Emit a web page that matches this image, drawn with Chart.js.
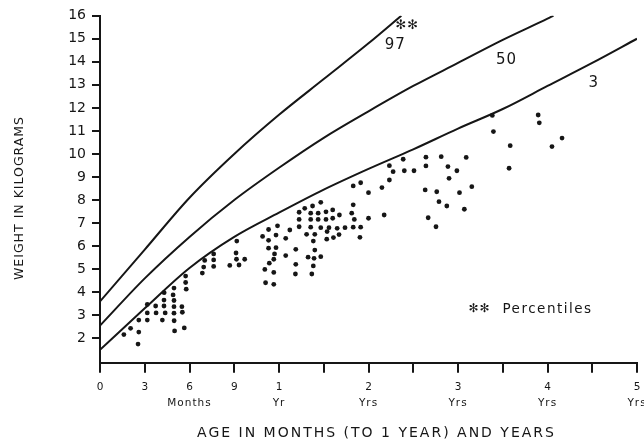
<!DOCTYPE html>
<html>
<head>
<meta charset="utf-8">
<script src="https://cdn.jsdelivr.net/npm/chart.js@4.4.1/dist/chart.umd.min.js"></script>
<style>
  html, body { margin: 0; padding: 0; background: #fff; }
  #wrap { width: 644px; height: 443px; }
</style>
</head>
<body>
<div id="wrap"><canvas id="growth" width="644" height="443"></canvas></div>
<script>
// percentile curves: age in months -> weight in kg
const p97Ages = [0, 3, 6, 9, 12, 18, 24, 28.4];
const p97Kg   = [3.6, 5.85, 8.1, 10.0, 11.7, 13.25, 14.8, 16.0];
const p50Ages = [0, 3, 6, 9, 12, 18, 24, 30, 36, 42, 48, 48.8];
const p50Kg   = [2.55, 4.6, 6.4, 8.0, 9.4, 10.7, 11.85, 12.95, 13.95, 14.95, 15.87, 16.0];
const p3Ages  = [0, 3, 6, 9, 12, 18, 24, 30, 36, 42, 48, 54, 60];
const p3Kg    = [1.5, 3.3, 5.05, 6.4, 7.45, 8.45, 9.35, 10.2, 11.1, 11.95, 12.95, 13.95, 15.0];

// individual children (age in months, weight in kg)
const dotAges = [
  1.6, 2.05, 2.6, 2.6, 2.55, 3.17, 3.17, 3.17, 3.73, 3.76, 4.18, 4.3, 4.29, 4.29, 4.37,
  4.96, 4.9, 4.96, 4.96, 4.96, 4.97, 5.0, 5.49, 5.52, 5.65, 5.74, 5.74, 5.78,
  7.02, 6.95, 6.86, 7.62, 7.62, 7.62, 8.7, 9.17, 9.12, 9.15, 9.32, 9.7,
  10.9, 11.05, 11.1, 11.3, 11.3, 11.3, 11.35, 11.65, 11.65, 11.65, 11.7, 11.8, 11.8, 11.9,
  12.9, 12.9, 13.45, 14.2, 14.25, 14.25, 14.7, 14.7, 14.7, 15.45, 15.7, 15.9,
  16.25, 16.25, 16.25, 16.4, 16.5, 16.6, 16.6, 16.7, 16.8, 16.8, 17.25, 17.25,
  17.6, 17.6, 17.6, 18.3, 18.3, 18.4, 18.45, 18.7, 19.2, 19.2, 19.3, 19.8, 20.1, 20.05,
  20.85, 21.75, 21.95, 21.95, 22.1, 21.95, 22.95, 22.95, 22.85, 24.0, 24.0,
  25.8, 26.1, 26.8, 27.3, 26.8, 28.65, 28.8, 30.1, 31.7, 31.7, 31.6, 32.0, 33.05,
  33.15, 33.45, 33.75, 34.5, 34.65, 34.8, 35.85, 36.2, 36.85, 37.1, 37.85,
  40.6, 40.75, 43.0, 42.85, 46.75, 46.9, 48.6, 49.95
];
const dotKg = [
  2.16, 2.43, 2.27, 2.79, 1.75, 3.47, 3.1, 2.79, 3.4, 3.1, 2.79, 3.98, 3.66, 3.4, 3.1,
  4.18, 3.88, 3.64, 3.37, 3.09, 2.76, 2.32, 3.37, 3.13, 2.45, 4.7, 4.42, 4.13,
  5.38, 5.09, 4.83, 5.66, 5.4, 5.12, 5.16, 6.22, 5.7, 5.43, 5.18, 5.43,
  6.42, 4.99, 4.41, 5.91, 6.72, 6.25, 5.26, 5.43, 4.86, 4.34, 5.66, 6.48, 5.93, 6.88,
  6.34, 5.59, 6.7, 4.79, 5.86, 5.21, 7.47, 7.16, 6.84, 7.64, 6.51, 5.52,
  7.43, 7.16, 6.82, 4.79, 7.74, 6.22, 5.14, 5.47, 6.51, 5.83, 7.43, 7.16,
  7.9, 6.8, 5.54, 7.49, 7.16, 6.3, 6.63, 6.8, 7.57, 7.21, 6.37, 6.77, 7.35, 6.5,
  6.8, 7.43, 7.79, 6.82, 7.16, 8.61, 8.75, 6.82, 6.38, 8.32, 7.21,
  8.54, 7.35, 9.49, 9.23, 8.87, 9.77, 9.27, 9.27, 9.86, 9.48, 8.44, 7.23, 6.84,
  8.36, 7.93, 9.88, 7.74, 9.45, 8.94, 9.27, 8.32, 7.6, 9.85, 8.58,
  11.67, 10.97, 10.36, 9.38, 11.69, 11.35, 10.32, 10.69
];

// axis ticks: every 3 months to 1 year, then every 6 months
const xTickTop    = ['0', '3', '6', '9', '1', '', '2', '', '3', '', '4', '', '5'];
const xTickBottom = ['', '', 'Months', '', 'Yr', '', 'Yrs', '', 'Yrs', '', 'Yrs', '', 'Yrs'];
const yTicks = [2, 3, 4, 5, 6, 7, 8, 9, 10, 11, 12, 13, 14, 15, 16];

const ink = '#161616';
const font = '"DejaVu Sans", sans-serif';

// months -> position on the split age axis
const ageToAxis = m => m <= 12 ? m / 3 : 4 + (m - 12) / 6;
const toPoints = (ages, kg) => ages.map((a, i) => ({ x: ageToAxis(a), y: kg[i] }));

const curve = (ages, kg) => ({
  data: toPoints(ages, kg),
  showLine: true,
  borderColor: ink,
  borderWidth: 2,
  pointRadius: 0,
  cubicInterpolationMode: 'monotone'
});

const axisGrid = len => ({
  drawOnChartArea: false,
  color: ink,
  lineWidth: 2,
  tickLength: len
});

// curve labels, unit words under the age ticks and both axis titles
const annotate = {
  id: 'annotate',
  afterDraw(chart) {
    const { ctx, scales: { x, y }, chartArea } = chart;
    const px = m => x.getPixelForValue(ageToAxis(m));
    const py = kg => y.getPixelForValue(kg);
    ctx.save();
    ctx.fillStyle = ink;
    ctx.textBaseline = 'middle';
    ctx.textAlign = 'center';
    ctx.letterSpacing = '1px';

    ctx.font = '10.5px ' + font;
    xTickBottom.forEach((unit, i) => {
      if (unit) ctx.fillText(unit, x.getPixelForValue(i), chartArea.bottom + 41);
    });

    ctx.font = '15px ' + font;
    ctx.fillText('97', px(27.6), py(14.73));
    ctx.fillText('50', px(42.5), py(14.08));
    ctx.fillText('3', px(54.2), py(13.08));
    ctx.font = '13px ' + font;
    ctx.fillText('\u273B\u273B', px(29.2), py(15.55));

    ctx.textAlign = 'left';
    ctx.font = '12px ' + font;
    ctx.fillText('\u273B\u273B', px(37.4), py(3.27));
    ctx.letterSpacing = '1.5px';
    ctx.font = '13.5px ' + font;
    ctx.fillText('Percentiles', px(37.4) + 34, py(3.27));

    ctx.textAlign = 'center';
    ctx.letterSpacing = '2px';
    ctx.font = '14px ' + font;
    ctx.fillText('AGE IN MONTHS (TO 1 YEAR) AND YEARS', (chartArea.left + chartArea.right) / 2 + 8, 433);
    ctx.letterSpacing = '1px';
    ctx.font = '12.5px ' + font;
    ctx.translate(20, 198);
    ctx.rotate(-Math.PI / 2);
    ctx.fillText('WEIGHT IN KILOGRAMS', 0, 0);
    ctx.restore();
  }
};

new Chart(document.getElementById('growth'), {
  type: 'scatter',
  data: {
    datasets: [
      {
        data: toPoints(dotAges, dotKg),
        pointRadius: 2.4,
        pointBackgroundColor: ink,
        pointBorderWidth: 0
      },
      curve(p97Ages, p97Kg),
      curve(p50Ages, p50Kg),
      curve(p3Ages, p3Kg)
    ]
  },
  options: {
    responsive: false,
    animation: false,
    events: [],
    layout: { padding: { top: 15.7, right: 7, left: 0, bottom: 0 } },
    plugins: { legend: { display: false }, tooltip: { enabled: false } },
    scales: {
      x: {
        type: 'linear',
        min: 0,
        max: 12,
        afterBuildTicks: s => { s.ticks = xTickTop.map((_, i) => ({ value: i })); },
        afterFit: s => { s.height = 80.3; s.paddingLeft = 0; s.paddingRight = 0; },
        grid: axisGrid(10),
        border: { display: true, color: ink, width: 2 },
        ticks: {
          autoSkip: false,
          maxRotation: 0,
          padding: 8,
          color: ink,
          font: { family: font, size: 10.5 },
          callback: (v, i) => xTickTop[i]
        }
      },
      y: {
        min: 0.94,
        max: 16,
        afterBuildTicks: s => { s.ticks = yTicks.map(v => ({ value: v })); },
        afterFit: s => { s.width = 100; s.paddingTop = 0; s.paddingBottom = 0; },
        grid: axisGrid(8),
        border: { display: true, color: ink, width: 2 },
        ticks: {
          padding: 6,
          color: ink,
          font: { family: font, size: 14 },
          callback: v => String(v)
        }
      }
    }
  },
  plugins: [annotate]
});
</script>
</body>
</html>
